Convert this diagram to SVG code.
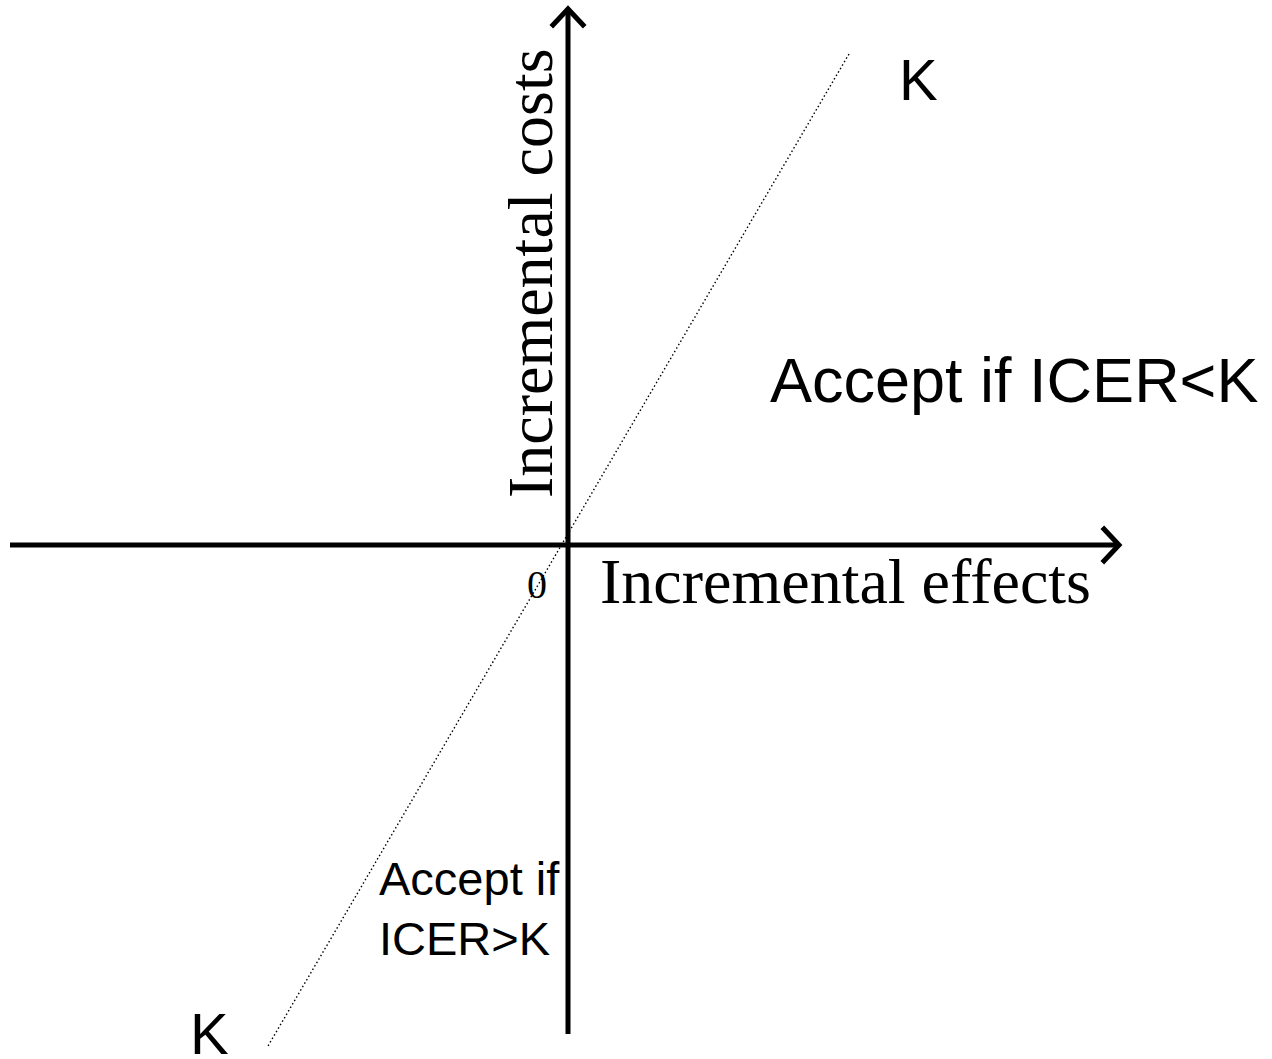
<svg xmlns="http://www.w3.org/2000/svg" width="1272" height="1059" viewBox="0 0 1272 1059">
<style>
.axis{stroke:#000;stroke-width:5;fill:none}
.head{stroke:#000;stroke-width:5;fill:none;stroke-linecap:square}
.kline{stroke:#000;stroke-width:1.4;stroke-dasharray:1.5 2.5;fill:none}
.serif{font-family:"Liberation Serif","Times New Roman",serif;fill:#000}
.sans{font-family:"Liberation Sans",Arial,sans-serif;fill:#000}
</style>
<rect width="1272" height="1059" fill="#fff"/>
<g id="connectors">
<line class="kline" x1="849" y1="54" x2="268" y2="1046"/>
<line class="axis" x1="10" y1="545" x2="1119" y2="545"/>
<polyline class="head" points="1104,529 1119,545 1104,561"/>
<line class="axis" x1="568" y1="1034" x2="568" y2="9"/>
<polyline class="head" points="553,25 568,9 583,25"/>
</g>
<g id="y-label"><text class="serif" font-size="64" transform="translate(552,498) rotate(-90)">Incremental costs</text></g>
<g id="x-label"><text class="serif" font-size="64" x="600" y="603">Incremental effects</text></g>
<g id="origin"><text class="serif" font-size="40" x="527" y="598">0</text></g>
<g id="k-top"><text class="sans" font-size="58" x="899" y="100">K</text></g>
<g id="k-bottom"><text class="sans" font-size="58" x="190" y="1054">K</text></g>
<g id="accept-upper"><text class="sans" font-size="63" x="770" y="402">Accept if ICER&lt;K</text></g>
<g id="accept-lower"><text class="sans" font-size="47" x="379" y="895">Accept if</text><text class="sans" font-size="47" x="379" y="955">ICER&gt;K</text></g>
</svg>
